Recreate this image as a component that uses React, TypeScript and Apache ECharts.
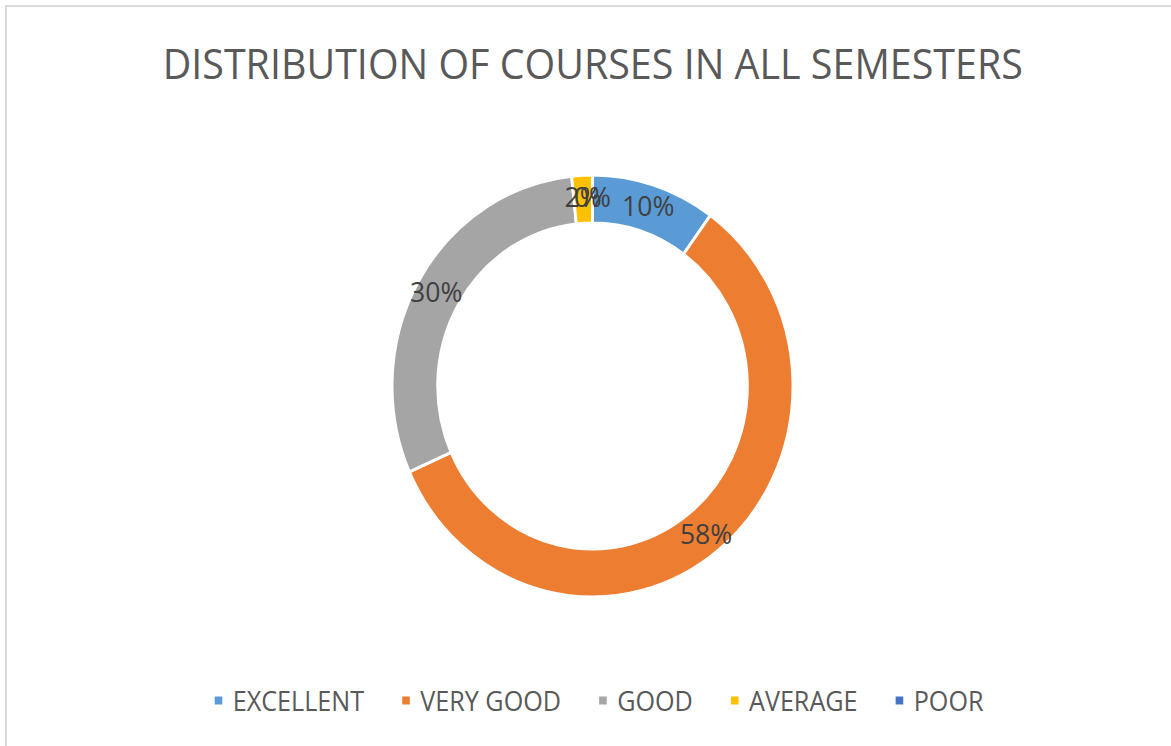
import React, { useEffect, useRef } from "react";
import * as echarts from "echarts";

const categories = ["EXCELLENT", "VERY GOOD", "GOOD", "AVERAGE", "POOR"];
const courseCounts = [6, 35, 18, 1, 0];
const colors = ["#5B9BD5", "#ED7D31", "#A5A5A5", "#FFC000", "#4472C4"];
const titleText = "DISTRIBUTION OF COURSES IN ALL SEMESTERS";

const SX = 0.95;
const W = 1171;
const H = 746;

export default function App() {
  const ref = useRef<HTMLDivElement>(null);
  useEffect(() => {
    if (!ref.current) return;
    const chart = echarts.init(ref.current, undefined, { renderer: "svg" });
    const font = "'Open Sans', 'Noto Sans', sans-serif";
    chart.setOption({
      animation: false,
      backgroundColor: "#ffffff",
      color: colors,
      title: {
        text: titleText,
        left: 619,
        textAlign: "center",
        top: 37,
        textStyle: {
          fontFamily: font,
          fontSize: 41.5,
          fontWeight: "normal",
          color: "#595959",
        },
      },
      legend: {
        data: categories,
        orient: "horizontal",
        left: 224,
        top: 687,
        padding: 0,
        itemWidth: 10,
        itemHeight: 10,
        itemGap: 38,
        icon: "rect",
        textStyle: {
          fontFamily: font,
          fontSize: 26.5,
          color: "#595959",
          padding: [0, 0, 0, 5],
        },
      },
      graphic: [
        {
          type: "rect",
          shape: { x: 6.3, y: 6, width: 1400, height: 900 },
          style: { fill: "none", stroke: "#D9D9D9", lineWidth: 2 },
          silent: true,
        },
      ],
      series: [
        {
          type: "pie",
          center: [623.7, 386],
          radius: [163, 211],
          startAngle: 90,
          clockwise: true,
          percentPrecision: 0,
          minShowLabelAngle: -1,
          avoidLabelOverlap: false,
          labelLayout: { hideOverlap: false },
          itemStyle: { borderColor: "#ffffff", borderWidth: 3 },
          label: {
            show: true,
            position: "inside",
            formatter: "{d}%",
            fontFamily: font,
            fontSize: 28,
            color: "#404040",
          },
          labelLine: { show: false },
          emphasis: { disabled: true },
          data: categories.map((c, i) => ({ name: c, value: courseCounts[i] })),
        },
      ],
    });
    return () => chart.dispose();
  }, []);

  return (
    <div
      style={{
        position: "fixed",
        left: 0,
        top: 0,
        width: W,
        height: H,
        overflow: "hidden",
        background: "#fff",
      }}
    >
      <div
        ref={ref}
        style={{
          width: W / SX,
          height: H,
          transform: `scaleX(${SX})`,
          transformOrigin: "0 0",
        }}
      />
    </div>
  );
}
